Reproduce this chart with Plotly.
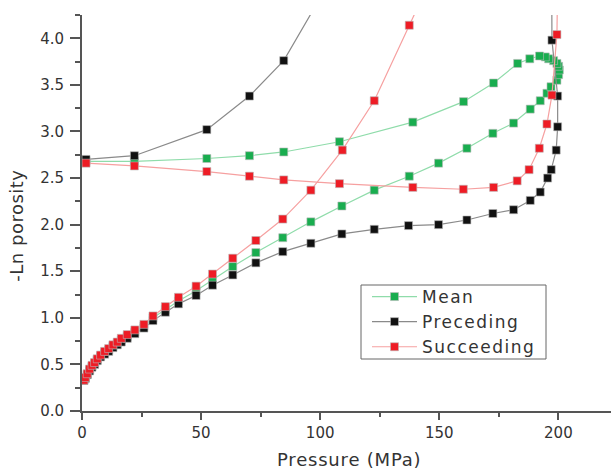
import plotly.graph_objects as go

# Mean
mean_x = [0.8, 1.4, 2.2, 3.2, 4.2, 5.3, 6.4, 7.8, 9.5, 11.2, 13, 14.8, 16.5, 19, 22.2, 26, 29.8, 35, 40.5,
          47.9, 54.8, 63.3, 73, 84.3, 96.1, 109.1, 122.7, 137.4, 149.7, 161.6, 172.5, 181.2, 188.2, 192.4,
          195.2, 196.9, 199.4, 200.1, 200.4, 200.1, 199.4, 198.0, 195.9, 194.5, 192.1, 188.0, 182.9,
          172.8, 160.2, 138.9, 108.1, 84.7, 70.3, 52.4, 22.0, 1.7]
mean_y = [0.33, 0.355, 0.395, 0.44, 0.48, 0.51, 0.55, 0.59, 0.625, 0.655, 0.695, 0.725, 0.76, 0.80, 0.85,
          0.91, 1.00, 1.09, 1.18, 1.29, 1.41, 1.55, 1.70, 1.86, 2.03, 2.20, 2.37, 2.52, 2.66, 2.82, 2.98,
          3.09, 3.24, 3.33, 3.41, 3.48, 3.55, 3.61, 3.66, 3.70, 3.73, 3.76, 3.78, 3.80, 3.81, 3.78, 3.73,
          3.52, 3.32, 3.10, 2.89, 2.78, 2.74, 2.71, 2.68, 2.68]

# Preceding (the two values above 4.25 lie outside the plotted range)
prec_x = [0.8, 1.4, 2.2, 3.2, 4.2, 5.3, 6.4, 7.8, 9.5, 11.2, 13, 14.8, 16.5, 19, 22.2, 26, 29.8, 35, 40.5,
          47.9, 54.8, 63.3, 73, 84.3, 96.1, 109.1, 122.7, 137.1, 149.7, 161.6, 172.5, 181.2, 188.2, 192.4,
          195.5, 197.0, 199.1, 199.7, 199.7, 197.3, 197.2, 108.1, 84.7, 70.3, 52.4, 22.0, 1.7]
prec_y = [0.33, 0.35, 0.39, 0.43, 0.47, 0.50, 0.54, 0.58, 0.61, 0.64, 0.68, 0.71, 0.74, 0.78, 0.83, 0.89,
          0.97, 1.06, 1.15, 1.24, 1.35, 1.46, 1.59, 1.71, 1.80, 1.90, 1.95, 1.99, 2.00, 2.05, 2.12, 2.16,
          2.26, 2.35, 2.50, 2.59, 2.80, 3.05, 3.38, 3.98, 4.80, 4.79, 3.76, 3.38, 3.02, 2.74, 2.70]

# Succeeding (the two values above 4.25 lie outside the plotted range)
succ_x = [0.8, 1.4, 2.2, 3.2, 4.2, 5.3, 6.4, 7.8, 9.5, 11.2, 13, 14.8, 16.5, 19, 22.2, 26, 29.8, 35, 40.5,
          47.9, 54.8, 63.3, 73, 84.3, 96.1, 109.3, 122.7, 137.4, 150.0, 199.8, 199.4, 197.3, 195.2, 192.0,
          187.7, 182.7, 172.8, 160.1, 138.9, 108.1, 84.7, 70.3, 52.4, 22.0, 1.7]
succ_y = [0.33, 0.36, 0.40, 0.45, 0.49, 0.52, 0.56, 0.60, 0.64, 0.67, 0.71, 0.74, 0.78, 0.82, 0.87, 0.93,
          1.02, 1.12, 1.22, 1.34, 1.47, 1.64, 1.83, 2.06, 2.37, 2.80, 3.33, 4.14, 4.83, 4.80, 4.04, 3.39,
          3.08, 2.82, 2.59, 2.47, 2.40, 2.38, 2.40, 2.44, 2.48, 2.52, 2.57, 2.63, 2.66]

x_ticks = [0, 50, 100, 150, 200]
y_ticks = [0.0, 0.5, 1.0, 1.5, 2.0, 2.5, 3.0, 3.5, 4.0]

series = [
    ("Mean", mean_x, mean_y, "#8fdcaa", "#19ad4f"),
    ("Preceding", prec_x, prec_y, "#8a8a8a", "#111111"),
    ("Succeeding", succ_x, succ_y, "#f6a0a0", "#ee1c25"),
]


def spaced(t, px):
    return f'<span style="letter-spacing:{px}px">{t}</span>'


fig = go.Figure()
for name, xs, ys, lc, mc in series:
    fig.add_trace(go.Scatter(
        x=xs, y=ys, name=spaced(name, 1.5), mode="lines+markers",
        line=dict(color=lc, width=1.2),
        marker=dict(symbol="square", size=8, color=mc, line=dict(width=0.6, color="#bbbbbb")),
    ))

axis_common = dict(
    showline=True, linecolor="#555555", linewidth=2, ticks="outside", tickcolor="#555555",
    tickwidth=1.5, showgrid=False, zeroline=False,
    tickfont=dict(family="DejaVu Sans", size=15, color="#333333"),
)

fig.update_layout(
    width=611, height=470, autosize=False,
    margin=dict(l=82, r=0, t=15, b=59),
    paper_bgcolor="white", plot_bgcolor="white",
    showlegend=True,
    legend=dict(
        x=(367 - 82) / 529, y=(411 - 279) / 396, xanchor="left", yanchor="top",
        bgcolor="rgba(0,0,0,0)", borderwidth=0,
        font=dict(family="DejaVu Sans", size=17, color="#333333"),
        itemwidth=45, tracegroupgap=0,
    ),
    shapes=[dict(type="rect", xref="paper", yref="paper",
                 x0=(361 - 82) / 529, x1=(546 - 82) / 529,
                 y0=(411 - 359) / 396, y1=(411 - 285) / 396,
                 line=dict(color="#666666", width=1), fillcolor="white", layer="above")],
    xaxis=dict(range=[0, 222.1], tickvals=x_ticks, ticklen=7,
               minor=dict(dtick=25, tick0=0, ticklen=4, ticks="outside", tickcolor="#555555", tickwidth=1.5),
               **axis_common),
    yaxis=dict(range=[0, 4.25], tickvals=y_ticks, tickformat=".1f", ticklen=10, ticklabelstandoff=3,
               minor=dict(dtick=0.25, tick0=0, ticklen=5, ticks="outside", tickcolor="#555555", tickwidth=1.5),
               **axis_common),
    annotations=[
        dict(text=spaced("Pressure (MPa)", 0.8), xref="paper", yref="paper", x=0.504, y=-0.1237,
             xanchor="center", yanchor="middle", showarrow=False,
             font=dict(family="DejaVu Sans", size=18, color="#333333")),
        dict(text=spaced("-Ln porosity", 0.5), xref="paper", yref="paper", x=(17 - 82) / 529, y=0.468,
             xanchor="center", yanchor="middle", showarrow=False, textangle=-90,
             font=dict(family="DejaVu Sans", size=18, color="#333333")),
    ],
)

fig.write_html("out.html", config={"displayModeBar": False},
               post_script="document.body.style.margin='0';document.body.style.overflow='hidden';")
